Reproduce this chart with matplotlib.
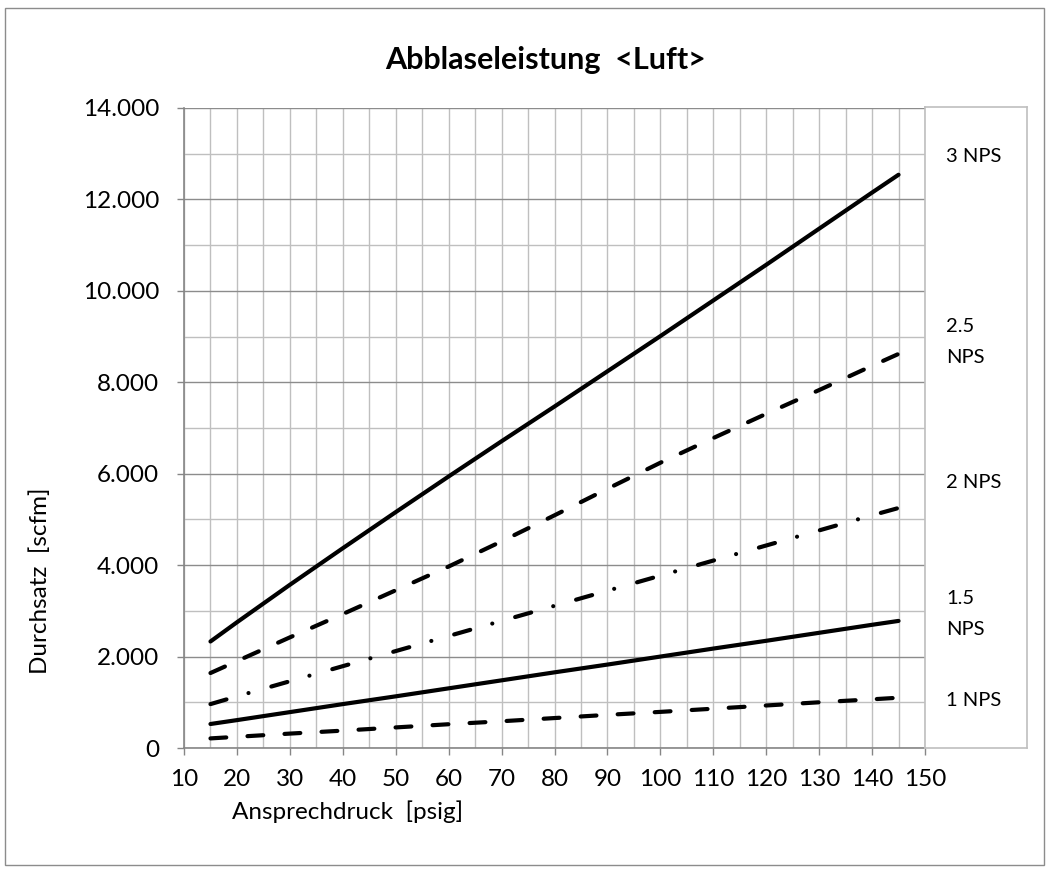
#!/usr/bin/env python3
# Abblaseleistung chart (Luft), redrawn from the Excel sheet
import matplotlib.pyplot as plt
from matplotlib.patches import Rectangle
from matplotlib.ticker import MultipleLocator, FuncFormatter

# pressure points [psig]
druck = [15, 20, 30, 40, 50, 60, 70, 80, 90, 100, 110, 120, 130, 140, 145]

# flow [scfm] per valve size
nps3 = [2330, 2750, 3570, 4370, 5160, 5940, 6710, 7470, 8240, 9010, 9790,
        10570, 11360, 12150, 12540]
nps25 = [1640, 1900, 2420, 2930, 3450, 3970, 4520, 5090, 5670, 6240, 6780,
         7310, 7830, 8360, 8620]
nps2 = [960, 1130, 1460, 1790, 2120, 2450, 2780, 3110, 3440, 3770, 4100,
        4430, 4760, 5090, 5250]
nps15 = [525, 610, 785, 960, 1130, 1305, 1480, 1655, 1825, 2000, 2175, 2345,
         2520, 2695, 2780]
nps1 = [210, 245, 315, 380, 450, 520, 585, 655, 725, 790, 860, 930, 1000,
        1065, 1100]

labels = ['3 NPS', '2.5\nNPS', '2 NPS', '1.5\nNPS', '1 NPS']
label_y = [156, 342, 482, 614, 700]  # pixel rows of the labels

plt.rcParams['font.family'] = ['Lato', 'DejaVu Sans']

W, H = 1050, 872
fig = plt.figure(figsize=(W / 100, H / 100), dpi=100)

# outer chart frame
fig.patches.append(Rectangle((5 / W, 1 - 865 / H), 1039 / W, 857 / H,
                             transform=fig.transFigure, fill=False,
                             edgecolor='#8c8c8c', lw=1.0))

ax = fig.add_axes([184 / W, 1 - 748 / H, 741 / W, 640 / H])
ax.set_xlim(10, 150)
ax.set_ylim(0, 14000)

ax.xaxis.set_major_locator(MultipleLocator(10))
ax.xaxis.set_minor_locator(MultipleLocator(5))
ax.yaxis.set_major_locator(MultipleLocator(2000))
ax.yaxis.set_minor_locator(MultipleLocator(1000))
ax.yaxis.set_major_formatter(
    FuncFormatter(lambda v, p: '{:,}'.format(int(v)).replace(',', '.')))

ax.grid(which='minor', axis='both', color='#bfbfbf', lw=1.0)
ax.grid(which='major', axis='x', color='#bfbfbf', lw=1.0)
ax.grid(which='major', axis='y', color='#8c8c8c', lw=1.0)
ax.set_axisbelow(True)

for s in ['top', 'right']:
    ax.spines[s].set_visible(False)
for s in ['left', 'bottom']:
    ax.spines[s].set_color('#868686')
    ax.spines[s].set_linewidth(1.2)

ax.tick_params(which='major', direction='out', length=5, width=1.0,
               color='#868686', labelsize=17.5)
ax.tick_params(which='minor', length=0)
ax.tick_params(axis='y', pad=13)
ax.tick_params(axis='x', pad=10)

lw = 3
ax.plot(druck, nps3, color='black', lw=lw, solid_capstyle='round')
ax.plot(druck, nps25, color='black', lw=lw, dashes=(3.8, 5.1),
        dash_capstyle='round')
ax.plot(druck, nps2, color='black', lw=lw, dashes=(4.0, 5.5, 0.01, 5.7),
        dash_capstyle='round')
ax.plot(druck, nps15, color='black', lw=lw, solid_capstyle='round')
ax.plot(druck, nps1, color='black', lw=lw, dashes=(3.8, 5.1),
        dash_capstyle='round')

# label box on the right
bx = fig.add_axes([925 / W, 1 - 748 / H, 102 / W, 641 / H])
bx.set_xticks([])
bx.set_yticks([])
for s in bx.spines.values():
    s.set_color('#bfbfbf')
    s.set_linewidth(1.2)
for t, py in zip(labels, label_y):
    fig.text(946 / W, 1 - py / H, t, fontsize=14.5, va='center', ha='left',
             linespacing=1.95)

fig.text(546 / W, 1 - 60 / H, 'Abblaseleistung  <Luft>', fontsize=22,
         fontweight='bold', ha='center', va='center')
fig.text(232 / W, 1 - 812 / H, 'Ansprechdruck  [psig]', fontsize=17.5,
         ha='left', va='center')
fig.text(40 / W, 1 - 581 / H, 'Durchsatz  [scfm]', fontsize=17.5,
         rotation=90, ha='center', va='center')

fig.savefig('out.png', dpi=100)
